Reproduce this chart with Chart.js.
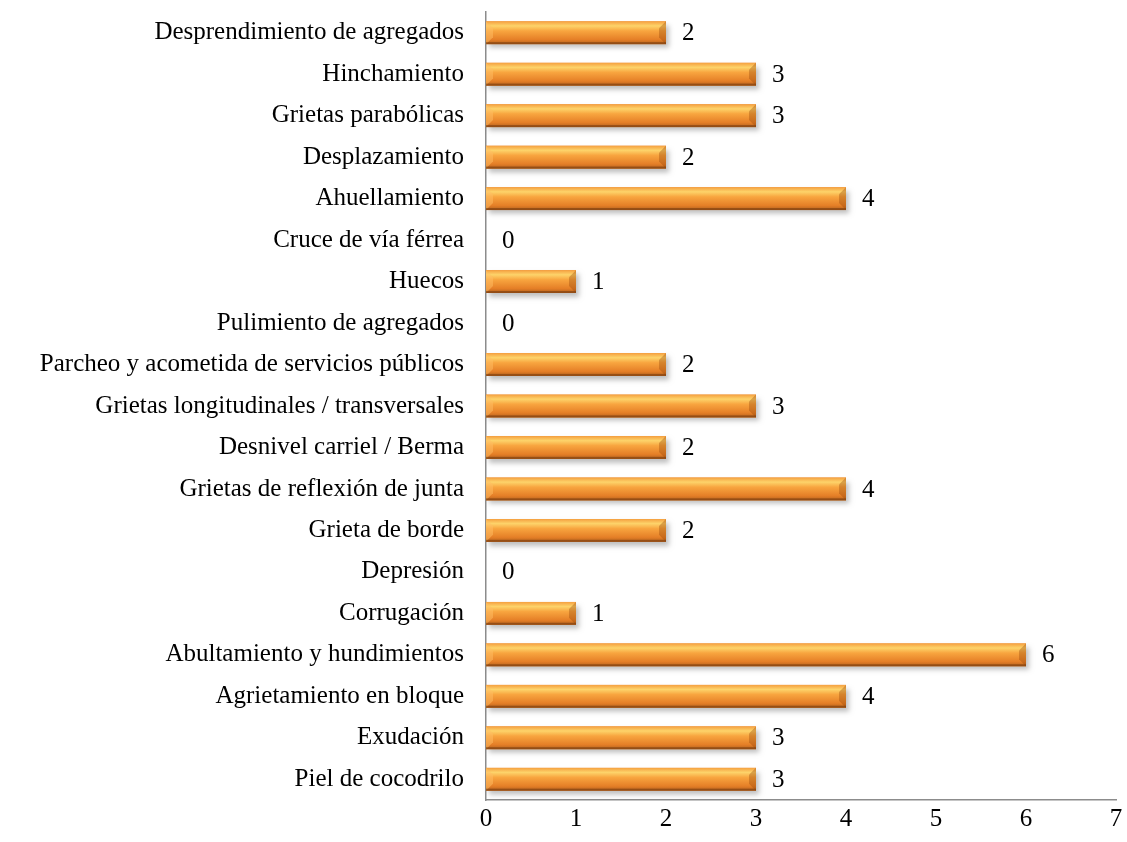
<!DOCTYPE html>
<html><head><meta charset="utf-8">
<script src="https://cdn.jsdelivr.net/npm/chart.js@4/dist/chart.umd.min.js"></script>
<style>html,body{margin:0;padding:0;background:#fff;}#wrap{width:1127px;height:842px;}</style>
</head><body><div id="wrap"><canvas id="c" width="1127" height="842"></canvas></div>
<script>
const categories = [
  "Desprendimiento de agregados","Hinchamiento","Grietas parabólicas","Desplazamiento",
  "Ahuellamiento","Cruce de vía férrea","Huecos","Pulimiento de agregados",
  "Parcheo y acometida de servicios públicos","Grietas longitudinales / transversales",
  "Desnivel carriel / Berma","Grietas de reflexión de junta","Grieta de borde","Depresión",
  "Corrugación","Abultamiento y hundimientos","Agrietamiento en bloque","Exudación","Piel de cocodrilo"
];
const values = [2,3,3,2,4,0,1,0,2,3,2,4,2,0,1,6,4,3,3];
const xTicks = [0,1,2,3,4,5,6,7];

const FONT = "'Liberation Serif','Times New Roman',serif";
const FSIZE = 25;

const barStyle = {
  id:'barStyle',
  afterDatasetDraw(chart){
    const ctx = chart.ctx;
    const meta = chart.getDatasetMeta(0);
    ctx.save();
    meta.data.forEach((bar,i)=>{
      const v = values[i];
      const x0 = bar.base, x1 = bar.x, h = bar.height, yt = bar.y - h/2, yb = bar.y + h/2;
      if (v > 0 && isFinite(yt)) {
        ctx.save();
        ctx.shadowColor='rgba(0,0,0,0.25)';
        ctx.shadowBlur=5;
        ctx.shadowOffsetX=3;
        ctx.shadowOffsetY=4;
        ctx.fillStyle='#e8872c';
        ctx.fillRect(x0, yt, x1-x0, h);
        ctx.restore();
        const g = ctx.createLinearGradient(0, yt, 0, yb);
        g.addColorStop(0,'#f5a040');
        g.addColorStop(0.2,'#fdd36a');
        g.addColorStop(0.42,'#f8a53f');
        g.addColorStop(0.8,'#e57f27');
        g.addColorStop(1,'#b4621e');
        ctx.fillStyle = g;
        ctx.fillRect(x0, yt, x1-x0, h);
        const b = Math.min(7, h/3);
        ctx.fillStyle='rgba(255,190,100,0.5)';
        ctx.beginPath(); ctx.moveTo(x0,yt); ctx.lineTo(x0+b,yt+b); ctx.lineTo(x0+b,yb-b); ctx.lineTo(x0,yb); ctx.closePath(); ctx.fill();
        ctx.fillStyle='rgba(150,70,10,0.35)';
        ctx.beginPath(); ctx.moveTo(x1,yt); ctx.lineTo(x1-b,yt+b); ctx.lineTo(x1-b,yb-b); ctx.lineTo(x1,yb); ctx.closePath(); ctx.fill();
        ctx.fillStyle='rgba(120,60,15,0.6)';
        ctx.fillRect(x0, yb-2, x1-x0, 2);
      }
      ctx.fillStyle='#000';
      ctx.font = FSIZE + "px " + FONT;
      ctx.textAlign='left';
      ctx.textBaseline='middle';
      ctx.fillText(String(v), x1 + 16, bar.y + 1);
    });
    ctx.restore();
  }
};

new Chart(document.getElementById('c'), {
  type:'bar',
  data:{
    labels: categories,
    datasets:[{
      data: values,
      backgroundColor:'rgba(0,0,0,0)',
      borderWidth:0,
      barPercentage:0.55,
      categoryPercentage:1.0
    }]
  },
  options:{
    indexAxis:'y',
    responsive:false,
    animation:false,
    layout:{padding:{top:12,right:11,left:0,bottom:0}},
    plugins:{legend:{display:false},tooltip:{enabled:false}},
    scales:{
      x:{
        min:0,max:7,
        afterBuildTicks(scale){ scale.ticks = xTicks.map(v=>({value:v})); },
        grid:{display:false,drawTicks:false},
        border:{display:true,color:'#8c8c8c',width:1.5},
        ticks:{color:'#000',font:{family:FONT,size:FSIZE},padding:4},
        afterFit(scale){ scale.height = 42; scale.paddingLeft = 0; scale.paddingRight = 0; }
      },
      y:{
        grid:{display:false,drawTicks:false},
        border:{display:true,color:'#8c8c8c',width:1.5},
        ticks:{color:'#000',font:{family:FONT,size:FSIZE},padding:22,autoSkip:false},
        afterFit(scale){ scale.width = 486; scale.paddingTop = 0; scale.paddingBottom = 0; }
      }
    }
  },
  plugins:[barStyle]
});
</script>
</body></html>
